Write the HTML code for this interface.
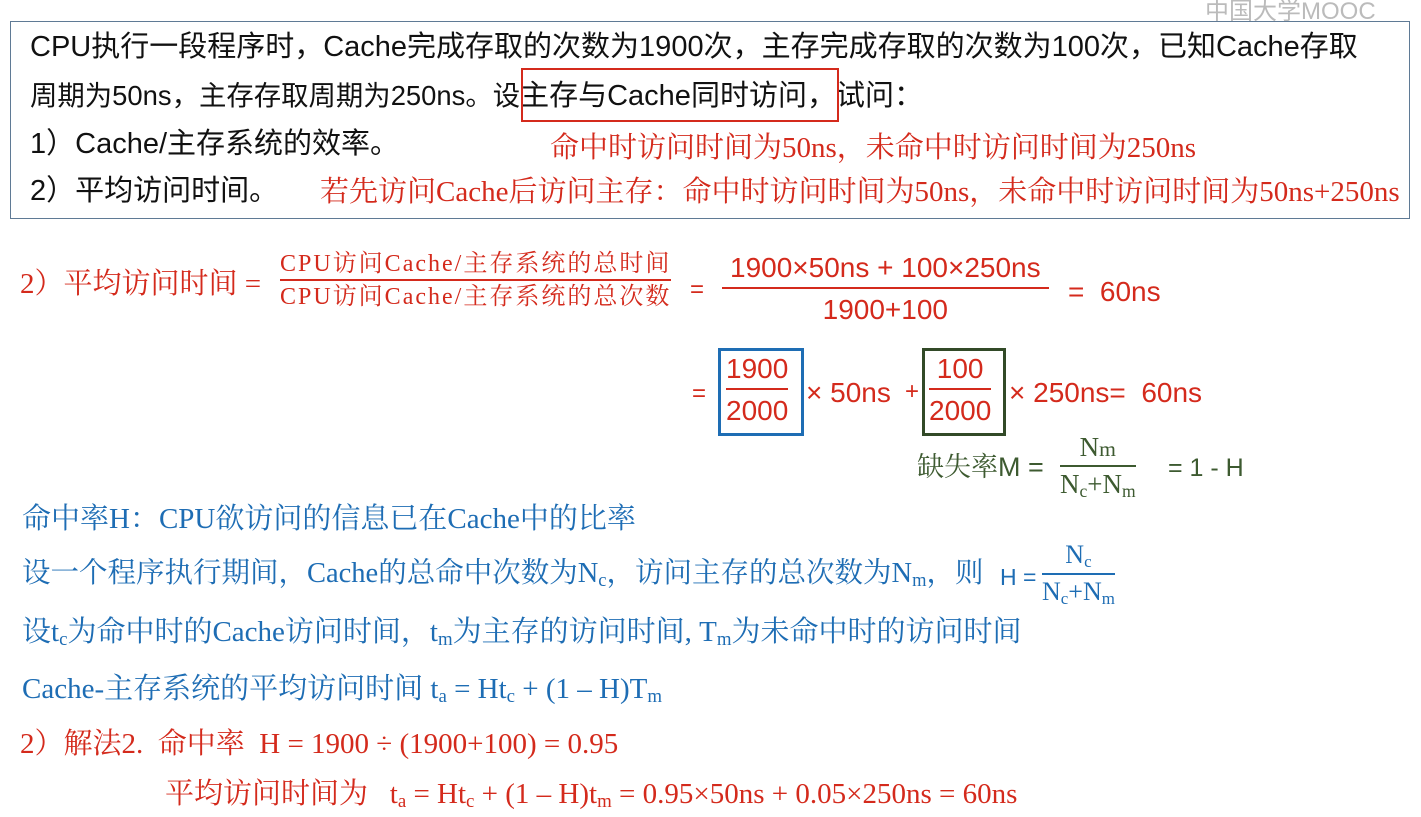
<!DOCTYPE html>
<html><head><meta charset="utf-8"><style>
body{margin:0;width:1421px;height:817px;background:#fff;position:relative;overflow:hidden;font-family:"Liberation Sans","Microsoft YaHei","Noto Sans CJK SC",sans-serif}
.a{position:absolute;white-space:nowrap;line-height:1}
.k{color:#111;font-size:29px}
.r{color:#d42a1c}
.b{color:#1e6db4}
.s{font-family:"Liberation Serif","Noto Serif CJK SC",serif}
.fr{position:absolute;text-align:center;line-height:1}
.fr .n{border-bottom:2px solid currentColor;padding-bottom:3px}
.fr .d{padding-top:4px}
sub{font-size:65%;vertical-align:-4px}
</style></head><body>
<div class="a" style="left:1205px;top:0;color:#bbb;font-size:24px">中国大学MOOC</div>
<div style="position:absolute;left:10px;top:21px;width:1400px;height:198px;border:1.5px solid #5f7a95;box-sizing:border-box"></div>
<div class="a k" style="left:30px;top:33px">CPU执行一段程序时，Cache完成存取的次数为1900次，主存完成存取的次数为100次，已知Cache存取</div>
<div class="a k" style="left:30px;top:82px;font-size:27.4px">周期为50ns，主存存取周期为250ns。设<span style="font-size:29px">主存与Cache同时访问，试问：</span></div>
<div style="position:absolute;left:521px;top:68px;width:318px;height:54px;border:2.5px solid #d42a1c;box-sizing:border-box"></div>
<div class="a k" style="left:30px;top:130px">1）Cache/主存系统的效率。</div>
<div class="a k" style="left:30px;top:177px">2）平均访问时间。</div>
<div class="a r s" style="left:550px;top:134px;font-size:29px">命中时访问时间为50ns，未命中时访问时间为250ns</div>
<div class="a r s" style="left:320px;top:178px;font-size:29px">若先访问Cache后访问主存：命中时访问时间为50ns，未命中时访问时间为50ns+250ns</div>

<div class="a r s" style="left:20px;top:270px;font-size:29px">2）平均访问时间 =</div>
<div class="fr r s" style="left:280px;top:252px;font-size:24px;letter-spacing:2px"><div class="n">CPU访问Cache/主存系统的总时间</div><div class="d">CPU访问Cache/主存系统的总次数</div></div>
<div class="a r" style="left:690px;top:278px;font-size:24px">=</div>
<div class="fr r" style="left:722px;top:254px;font-size:28px"><div class="n" style="padding:0 8px 5px">1900×50ns + 100×250ns</div><div class="d" style="padding-top:7px">1900+100</div></div>
<div class="a r" style="left:1068px;top:278px;font-size:28px">= &nbsp;60ns</div>

<div class="a r" style="left:692px;top:382px;font-size:24px">=</div>
<div style="position:absolute;left:718px;top:348px;width:86px;height:88px;border:3px solid #1e6db4;box-sizing:border-box"></div>
<div class="fr r" style="left:726px;top:355px;font-size:28px"><div class="n" style="padding-bottom:5px">1900</div><div class="d" style="padding-top:7px">2000</div></div>
<div class="a r" style="left:806px;top:379px;font-size:28px">× 50ns</div>
<div class="a r" style="left:905px;top:380px;font-size:24px">+</div>
<div style="position:absolute;left:922px;top:348px;width:84px;height:88px;border:3px solid #324a28;box-sizing:border-box"></div>
<div class="fr r" style="left:929px;top:355px;font-size:28px"><div class="n" style="padding:0 2px 5px">100</div><div class="d" style="padding-top:7px">2000</div></div>
<div class="a r" style="left:1009px;top:379px;font-size:28px">× 250ns= &nbsp;60ns</div>

<div class="a" style="left:917px;top:454px;font-size:27px;color:#3d5a30"><span class="s">缺失率</span>M =</div>
<div class="fr s" style="left:1060px;top:434px;font-size:27px;color:#3d5a30"><div class="n" style="padding:0 4px 4px">N<span style="font-size:80%">m</span></div><div class="d">N<sub>c</sub>+N<sub>m</sub></div></div>
<div class="a" style="left:1168px;top:456px;font-size:25px;color:#3d5a30">= 1 - H</div>

<div class="a b s" style="left:22px;top:505px;font-size:29px">命中率H：CPU欲访问的信息已在Cache中的比率</div>
<div class="a b s" style="left:22px;top:560px;font-size:28.5px">设一个程序执行期间，Cache的总命中次数为N<sub>c</sub>，访问主存的总次数为N<sub>m</sub>，则</div>
<div class="a b" style="left:1000px;top:566px;font-size:23px">H =</div>
<div class="fr b s" style="left:1042px;top:542px;font-size:26px"><div class="n" style="padding:0 3px 2px">N<sub>c</sub></div><div class="d">N<sub>c</sub>+N<sub>m</sub></div></div>
<div class="a b s" style="left:22px;top:618px;font-size:29px">设t<sub>c</sub>为命中时的Cache访问时间，t<sub>m</sub>为主存的访问时间, T<sub>m</sub>为未命中时的访问时间</div>
<div class="a b s" style="left:22px;top:675px;font-size:29px">Cache-主存系统的平均访问时间 t<sub>a</sub> = Ht<sub>c</sub> + (1 – H)T<sub>m</sub></div>
<div class="a r s" style="left:20px;top:730px;font-size:29px">2）解法2. &nbsp;命中率 &nbsp;H = 1900 ÷ (1900+100) = 0.95</div>
<div class="a r s" style="left:165px;top:780px;font-size:29px">平均访问时间为 &nbsp;&nbsp;t<sub>a</sub> = Ht<sub>c</sub> + (1 – H)t<sub>m</sub> = 0.95×50ns + 0.05×250ns = 60ns</div>
</body></html>
